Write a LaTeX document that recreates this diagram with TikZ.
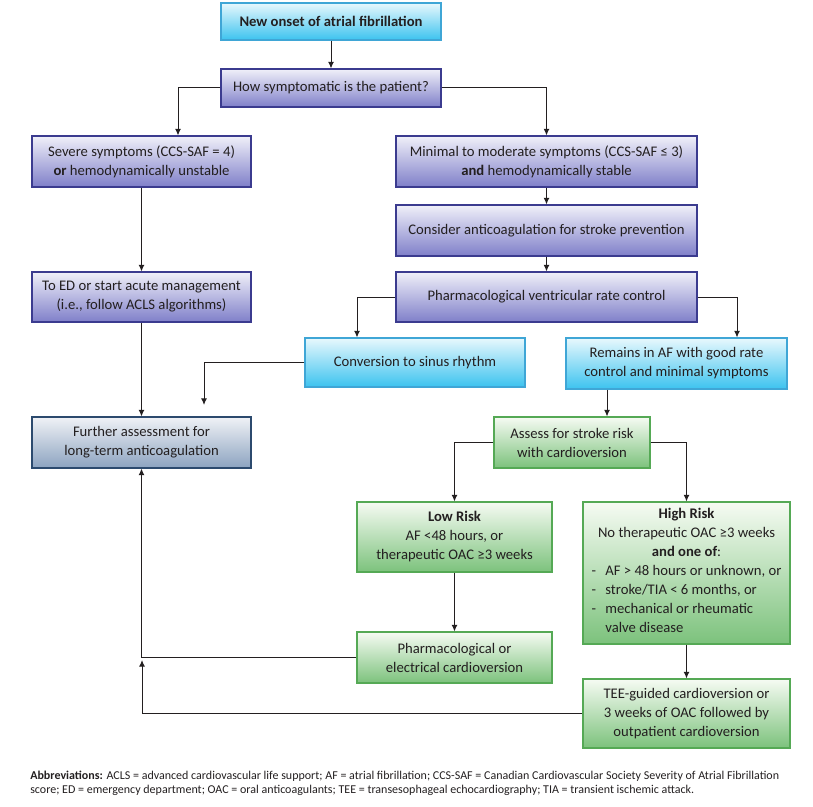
\documentclass[tikz,border=0pt]{standalone}
\usepackage{fontspec}
\setmainfont{Carlito}
\usetikzlibrary{arrows.meta,calc}

\definecolor{txt}{HTML}{231F20}
\definecolor{purpletop}{HTML}{F0F0F9}
\definecolor{purplebot}{HTML}{7F7FC9}
\definecolor{purpleline}{HTML}{3B3B8F}
\definecolor{cyantop}{HTML}{E8F8FD}
\definecolor{cyanbot}{HTML}{3CC3EF}
\definecolor{cyanline}{HTML}{3FA6D6}
\definecolor{greentop}{HTML}{F6FBF3}
\definecolor{greenbot}{HTML}{7CC27C}
\definecolor{greenline}{HTML}{55A955}
\definecolor{steeltop}{HTML}{F0F2F6}
\definecolor{steelbot}{HTML}{8CA3C0}
\definecolor{steelline}{HTML}{2C4A6E}

\tikzset{
  box/.style={draw, line width=0.8pt, align=center, text=txt, inner sep=2pt,
    font=\fontsize{11}{14.25}\selectfont},
  purplebox/.style={box, draw=purpleline, top color=purpletop, bottom color=purplebot},
  cyanbox/.style={box, draw=cyanline, top color=cyantop, bottom color=cyanbot},
  greenbox/.style={box, draw=greenline, top color=greentop, bottom color=greenbot},
  steelbox/.style={box, draw=steelline, top color=steeltop, bottom color=steelbot},
  arr/.style={-{Latex[length=5pt,width=4.5pt]}, line width=0.75pt, draw=txt},
}

\begin{document}
\begin{tikzpicture}[x=0.75pt,y=-0.75pt]
    \useasboundingbox (0,0) rectangle (813,806);

    % main column
    \node[cyanbox, minimum width=165pt, minimum height=27.75pt] (onset) at (331,21.5)
        {\bfseries New onset of atrial fibrillation};
    \node[purplebox, minimum width=165pt, minimum height=28.5pt] (howsym) at (331,88)
        {How symptomatic is the patient?};
    \node[purplebox, minimum width=164.25pt, minimum height=38.25pt] (severe) at (141.5,161.5)
        {Severe symptoms (CCS-SAF = 4)\\{\bfseries or} hemodynamically unstable};
    \node[purplebox, minimum width=225.75pt, minimum height=38.25pt] (minimal) at (546.5,161.5)
        {Minimal to moderate symptoms (CCS-SAF ≤ 3)\\{\bfseries and} hemodynamically stable};
    \node[purplebox, minimum width=225.75pt, minimum height=38.25pt] (consider) at (546.5,230.5)
        {Consider anticoagulation for stroke prevention};
    \node[purplebox, minimum width=225.75pt, minimum height=37.5pt] (ratectl) at (546.5,297)
        {Pharmacological ventricular rate control};
    \node[purplebox, minimum width=164.25pt, minimum height=37.5pt] (toed) at (141.5,297)
        {To ED or start acute management\\(i.e., follow ACLS algorithms)};
    \node[cyanbox, minimum width=165pt, minimum height=36.75pt] (sinus) at (415,362.5)
        {Conversion to sinus rhythm};
    \node[cyanbox, minimum width=165.75pt, minimum height=38.25pt] (remains) at (676.5,363.5)
        {Remains in AF with good rate\\control and minimal symptoms};
    \node[steelbox, minimum width=164.25pt, minimum height=38.25pt] (further) at (141.5,442.5)
        {Further assessment for\\long-term anticoagulation};

    % stroke risk part
    \node[greenbox, minimum width=117pt, minimum height=38.25pt] (assess) at (572,442.5)
        {Assess for stroke risk\\with cardioversion};
    \node[greenbox, minimum width=146.25pt, minimum height=52.5pt] (lowrisk) at (454.5,537)
        {{\bfseries Low Risk}\\AF <48 hours, or\\therapeutic OAC ≥3 weeks};
    \node[greenbox, minimum width=155.25pt, minimum height=106.5pt] (highrisk) at (686.5,573)
        {{\bfseries High Risk}\\No therapeutic OAC ≥3 weeks\\{\bfseries and one of}:\\
        \begin{tabular}[t]{@{}l@{\hspace{7pt}}l@{}}
        - & AF > 48 hours or unknown, or\\
        - & stroke/TIA < 6 months, or\\
        - & mechanical or rheumatic\\
          & valve disease
        \end{tabular}};
    \node[greenbox, minimum width=146.25pt, minimum height=38.25pt] (cardiov) at (454.5,657.5)
        {Pharmacological or\\electrical cardioversion};
    \node[greenbox, minimum width=155.25pt, minimum height=51.75pt] (teeguided) at (686.5,713.5)
        {TEE-guided cardioversion or\\3 weeks of OAC followed by\\outpatient cardioversion};

    % free ends
    \coordinate (sinusend) at (204,405);
    \coordinate (teeend) at (142,660);
    \coordinate (remainsx) at (607,0);

    \draw[arr] (onset) -- (howsym);
    \draw[arr] (howsym.west) -| ($(severe.north)+(36.5,0)$);
    \draw[arr] (howsym.east) -| (minimal.north);
    \draw[arr] (minimal) -- (consider);
    \draw[arr] (consider) -- (ratectl);
    \draw[arr] (ratectl.west) -| ($(sinus.north)+(-58,0)$);
    \draw[arr] (ratectl.east) -| ($(remains.north)+(60.5,0)$);
    \draw[arr] (severe) -- (toed);
    \draw[arr] (toed) -- (further);
    \draw[arr] (sinus.west) -| (sinusend);
    \draw[arr] (remains.south -| remainsx) -- (assess.north -| remainsx);
    \draw[arr] (assess.west) -| (lowrisk.north);
    \draw[arr] (assess.east) -| (highrisk.north);
    \draw[arr] (lowrisk) -- (cardiov);
    \draw[arr] (highrisk) -- (teeguided);
    \draw[arr] (cardiov.west) -| (further.south);
    \draw[arr] (teeguided.west) -| (teeend);

    \node[anchor=north west, align=left, text=txt, inner sep=0pt,
        font=\fontsize{9}{10.5}\selectfont] (abbrev) at (30,771)
        {{\bfseries Abbreviations:} ACLS = advanced cardiovascular life support; AF = atrial fibrillation; CCS-SAF = Canadian Cardiovascular Society Severity of Atrial Fibrillation\\
        score; ED = emergency department; OAC = oral anticoagulants; TEE = transesophageal echocardiography; TIA = transient ischemic attack.};
\end{tikzpicture}
\end{document}
